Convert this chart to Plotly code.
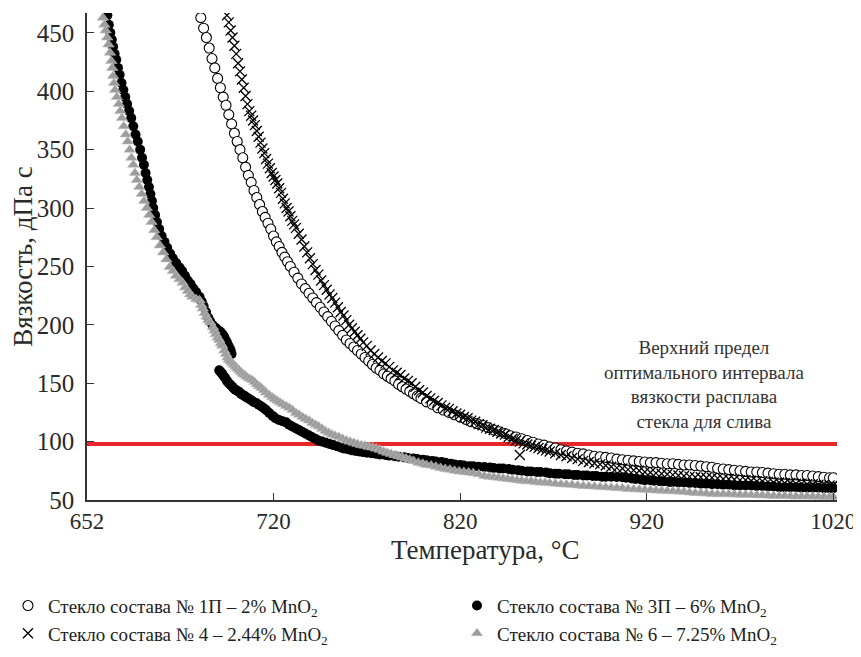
import plotly.graph_objects as go

# ---------------- data ----------------
# (temperature, viscosity) pairs
# Glass 1P - 2% MnO2 (open circles)
pts_1p = [(681, 463), (682.5, 454), (684, 446), (685.5, 437), (687, 428), (688.5, 420), (690, 411), (691.5, 403),
          (693, 395), (694.5, 388), (696, 380), (697.5, 372), (699, 364), (700.5, 357), (702, 350), (703.5, 343),
          (705, 335), (706.5, 328), (708, 322), (709.5, 315), (711, 309), (712.5, 303), (714, 297), (715.5, 292),
          (717, 287), (718.5, 282), (720, 276), (721.5, 271), (723, 267), (724.5, 262), (726, 258), (727.5, 254),
          (729, 250), (731, 245), (733, 240), (735, 235), (737, 231), (739, 227), (741, 223), (743, 219),
          (745, 215), (747, 211), (749, 207), (751, 203), (753, 199), (755, 195), (757, 191), (759, 187),
          (761, 184), (763, 181), (765, 178), (767, 175), (769, 172), (771, 169), (773, 166), (775, 163),
          (777, 161), (779, 158), (781, 156), (783, 154), (785, 152), (787, 149), (789, 147), (791, 145),
          (793, 143), (795, 141), (797, 139), (799, 137), (802, 134), (805, 132), (808, 129), (811, 127),
          (814, 125), (817, 123), (820, 121), (823, 119), (826, 117), (829, 115.5), (832, 114), (835, 112),
          (838, 110), (841, 108.5), (844, 107), (847, 105), (850, 104), (853, 102.5), (856, 101), (859, 99.5),
          (862, 98), (865, 97), (868, 95.5), (871, 94.5), (874, 93), (877, 92), (880, 91), (883, 90),
          (886, 89.5), (889, 88.5), (892, 87.5), (895, 87), (898, 86.5), (901, 86), (904, 85), (907, 84.5),
          (910, 84), (913, 83.5), (916, 83), (919, 82.5), (922, 82), (925, 82), (928, 81.5), (931, 81),
          (934, 81), (937, 80.5), (940, 80), (943, 80), (946, 79.5), (949, 79), (952, 78.5), (955, 78),
          (958, 77), (961, 76.5), (964, 76), (967, 75.5), (970, 75), (973, 74.5), (976, 74), (979, 74),
          (982, 73.5), (985, 73), (988, 72.5), (991, 72), (994, 72), (997, 71.5), (1000, 71.5), (1003, 71),
          (1006, 71), (1009, 70.5), (1012, 70), (1015, 69.5), (1018, 69), (1020, 69)]

# Glass 3P - 6% MnO2 (filled black circles): upper branch, then lower branch
pts_3p = [(630.9, 465), (631.7, 457), (632.5, 450), (633.3, 444), (634, 438), (634.8, 432), (635.7, 427),
          (636.6, 420), (637.5, 414), (638.5, 407), (639.5, 401), (640.5, 395), (641.5, 389), (642.6, 383),
          (643.7, 377), (644.8, 370), (646, 363), (647.2, 357), (648.5, 350), (649.5, 343), (650.5, 337),
          (651.4, 330), (652.3, 324), (653.2, 318), (654, 312), (654.8, 306), (655.5, 300), (656.5, 294),
          (657.5, 288), (658.7, 282), (660, 276), (661.5, 271), (663, 266), (664.5, 261), (666, 257),
          (667.8, 253), (669.6, 249), (671, 246), (672.5, 242), (674, 238), (675.5, 235), (677, 231),
          (678.5, 228), (680.3, 224), (681.5, 220), (682.5, 216), (683.8, 211), (685, 206), (686, 203),
          (687.2, 200), (688.2, 198), (689.2, 197), (690.5, 195), (691.5, 194), (692.5, 192), (693.5, 190),
          (694.3, 187), (695, 185), (695.8, 182), (696.5, 180), (697, 178), (697.5, 175),
          (690.9, 161), (691.7, 159.5), (692.5, 158), (693.3, 156), (694.1, 154.5), (695, 152), (696, 150),
          (697, 148.5), (697.9, 147), (698.7, 145.5), (699.5, 144.5), (700.5, 143.5), (701.6, 142.5),
          (702.5, 141), (703.5, 140), (704.5, 139), (705.3, 138), (706.5, 137), (708, 135.5), (709.3, 134),
          (710.7, 133), (712, 131.5), (713.5, 130), (714.8, 128.5), (716, 127), (717.7, 124.5), (719.5, 122),
          (721, 120), (722.9, 118.5), (724.8, 117.5), (726.7, 116.5), (728.3, 114.5), (730, 113),
          (731.8, 111.5), (733.6, 110), (735.3, 108.5), (737, 107), (738.8, 105.5), (740.5, 104),
          (742.3, 102.5), (744, 101), (746, 100), (748, 99), (750, 98), (752, 97), (754, 96), (756, 95),
          (758, 94), (760, 93.5), (762, 92.5), (764, 92), (766, 91.5), (768, 91), (770, 90.5), (772.5, 90),
          (775, 89.5), (777, 89), (780, 88.5), (782, 88), (785, 87.5), (787, 87), (790, 86.5), (792, 86),
          (795, 85.5), (797, 85), (800, 84.5), (802, 84), (805, 83.5), (807, 83), (810, 82.5), (812, 82),
          (815, 81), (817, 80.5), (820, 80), (822, 79.5), (825, 79), (827, 79), (830, 78.5), (833, 78.3),
          (836, 77.8), (838, 77.5), (841, 77), (843, 77), (846, 76.5), (848, 76), (851, 75.5), (853, 75),
          (856, 74.5), (858, 74.5), (861, 74), (863, 74), (866, 73.5), (868, 73), (871, 72.5), (873, 72.5),
          (876, 72), (878, 72), (881, 71.5), (883, 71.5), (886, 71), (888, 71), (891, 70.5), (893, 70.5),
          (896, 70), (898, 70), (901, 70), (904, 69.7), (907, 69.5), (909, 69), (912, 68.5), (914, 68),
          (917, 67.5), (919, 67), (922, 67), (924, 66.5), (927, 66), (929, 66), (932, 65.5), (934, 65.5),
          (937, 65), (940, 65), (943, 64.5), (946, 64.5), (949, 64), (952, 64), (955, 63.5), (958, 63.5),
          (961, 63), (964, 63), (967, 62.5), (970, 62.5), (973, 62.5), (976, 62.5), (979, 62), (982, 62),
          (985, 61.5), (988, 61.5), (991, 61), (994, 61), (997, 61), (1000, 61), (1003, 60.5), (1006, 60.5),
          (1009, 60.5), (1012, 60.5), (1015, 60), (1018, 60), (1020, 60)]

# Glass 4 - 2.44% MnO2 (crosses)
pts_4 = [(695, 465), (696, 459), (697, 452), (698, 446), (699, 439), (700, 432), (701, 424), (702, 417),
         (703, 410), (704, 403), (705, 396), (706, 389), (707, 383), (708, 379), (709, 375), (710, 371),
         (711, 366), (712, 361), (713, 356), (714, 351), (715, 347), (716, 342), (717, 338), (718, 334),
         (719, 330), (720, 327), (721, 324), (722, 321), (723, 317), (724, 313), (725, 308), (726, 304),
         (727, 300), (728, 297), (729, 293), (730, 289), (731, 286), (732, 283), (733.5, 278), (735, 273),
         (736.5, 267), (738, 262), (739.5, 257), (741, 252), (742.5, 247), (744, 243), (745.5, 238),
         (747, 234), (748.5, 230), (750, 226), (751.5, 223), (753, 219), (754.5, 215), (756, 211),
         (757.5, 208), (759, 204), (760.5, 200), (762, 197), (763.5, 194), (765, 191), (766.5, 188),
         (768, 185), (770, 182), (772, 178), (774, 175), (776, 172), (778, 169), (780, 167), (782, 164),
         (784, 161), (786, 159), (788, 157), (790, 154), (792, 152), (794, 150), (796, 147), (798, 144),
         (800, 142), (802, 139), (804, 137), (806, 135), (808, 133), (810, 131), (812, 129), (814, 128),
         (816, 126), (818, 124), (820, 123), (822, 121), (824, 120), (826, 118), (828, 117), (830, 115),
         (832, 114), (834, 112), (836, 111), (838, 110), (840, 108.5), (842, 107), (844, 106), (846, 104),
         (848, 102.5), (850, 101), (852, 88.5), (852, 100), (854, 98.5), (856, 97.5), (858, 96.5),
         (860, 95.5), (862, 94.5), (864, 93.5), (866, 92.5), (868, 91.5), (871, 90), (874, 88.5),
         (877, 87.5), (880, 86), (883, 85), (886, 83.5), (889, 82.5), (892, 81.5), (895, 80.5), (898, 79.5),
         (901, 78.5), (904, 77.5), (907, 77), (910, 76), (913, 75.5), (916, 75), (919, 74), (922, 73.5),
         (925, 73), (928, 72.5), (931, 72), (934, 71.5), (937, 71), (940, 70.5), (943, 70), (946, 69.5),
         (949, 69.5), (952, 69), (955, 69), (958, 68.5), (961, 68), (964, 68), (967, 67.5), (970, 67),
         (973, 67), (976, 66.5), (979, 66), (982, 66), (985, 65.5), (988, 65), (991, 65), (994, 64.5),
         (997, 64.5), (1000, 64), (1003, 64), (1006, 63.5), (1009, 63.5), (1012, 63), (1015, 63),
         (1018, 62.5), (1020, 62.5)]

# Glass 6 - 7.25% MnO2 (grey triangles)
pts_6 = [(628.5, 463), (629.3, 457), (630, 452), (630.8, 446), (631.5, 440), (632.3, 433), (633, 426),
         (633.5, 420), (634, 413), (634.5, 407), (635, 401), (636, 395), (637, 389), (637.8, 383),
         (638.7, 377), (639.7, 370), (640.8, 363), (641.8, 357), (642.9, 350), (643.8, 343), (644.8, 337),
         (645.7, 330), (646.7, 324), (648, 318), (649.3, 312), (650.6, 306), (652, 300), (653.3, 294),
         (654.6, 288), (656, 281), (657.3, 275), (659, 268), (660.8, 262), (662.5, 256), (664.3, 249.5),
         (666, 246), (667.7, 242), (669.5, 239), (671.2, 236), (672.6, 232), (674, 229), (675.3, 226),
         (676.5, 224), (678.5, 222), (680.3, 221), (681.2, 217), (682, 214), (683, 210), (684, 207),
         (685, 204), (686, 202), (687.5, 198), (688.3, 195), (689, 192), (690, 189), (690.9, 187),
         (691.7, 184), (692.5, 182), (693.5, 178), (694.5, 175), (695.3, 172), (696, 170), (697, 168.5),
         (697.9, 167), (698.8, 165.5), (699.7, 164), (700.6, 162.5), (701.6, 161), (702.5, 159.5),
         (703.5, 158), (704.5, 157), (705.5, 155.5), (707, 154), (708.5, 152.7), (709.8, 151), (711, 149),
         (712.3, 147.5), (713.5, 146), (714.8, 144), (716, 142), (717.6, 140), (719.2, 138), (720.6, 136.5),
         (722, 135), (723.5, 133.5), (725, 132), (726.7, 130.5), (728.5, 129), (730.2, 127), (732, 124.5),
         (733.7, 123), (735.5, 121), (737.2, 119.5), (739, 118), (740.8, 116), (742.5, 114.5),
         (744.2, 113), (746, 111), (747.8, 109), (749.6, 107.5), (751.3, 106), (753, 105), (755, 104),
         (757, 102.5), (759, 101), (761, 100), (763, 99), (765, 98), (767, 97), (769, 96.5), (771, 95.5),
         (773, 95), (775, 94), (777, 93), (779, 91.5), (781, 90.5), (783, 89.5), (785, 88.5), (787, 87.5),
         (789, 86.5), (791, 85.5), (793, 84.5), (795, 83.5), (797.6, 82), (800, 81), (802, 80),
         (804.5, 79.5), (807, 78.5), (809.5, 77.5), (812, 76.5), (814.5, 76), (817, 75), (819.5, 74.5),
         (822, 74), (824.5, 73.5), (827, 73), (830, 72), (833, 70.5), (835.5, 70), (838, 69.5),
         (840.5, 69), (843, 68.5), (845.5, 68), (848, 67.5), (850.5, 67), (853, 66.5), (855.5, 66),
         (858, 66), (860.5, 65.5), (863, 65), (865.5, 64.8), (868, 64.5), (871, 64), (874, 63.5),
         (877, 63.2), (880, 63), (883, 62.5), (886, 62), (889, 61.8), (892, 61.5), (895, 61.2), (898, 61),
         (901, 60.6), (904, 60.3), (907, 60), (910, 59.5), (913, 59.2), (916, 59), (919, 58.7),
         (922, 58.5), (925, 58.2), (928, 58), (931, 57.8), (934, 57.5), (937, 57.2), (940, 57), (943, 56.5),
         (946, 56), (949, 55.8), (952, 55.5), (955, 55.2), (958, 55), (961, 55), (964, 55), (967, 54.7),
         (970, 54.5), (973, 54.4), (976, 54.3), (979, 54.1), (982, 54), (985, 53.8), (988, 53.5),
         (991, 53.5), (994, 53.5), (997, 53.2), (1000, 53), (1003, 53), (1006, 53), (1009, 52.9),
         (1012, 52.8), (1015, 52.7), (1018, 52.6), (1020, 52.6)]

t_1p = [p[0] for p in pts_1p]
v_1p = [p[1] for p in pts_1p]
t_3p = [p[0] for p in pts_3p]
v_3p = [p[1] for p in pts_3p]
t_4 = [p[0] for p in pts_4]
v_4 = [p[1] for p in pts_4]
t_6 = [p[0] for p in pts_6]
v_6 = [p[1] for p in pts_6]

limit_value = 98  # upper limit of optimal viscosity for draining
x_tickvals = [620, 720, 820, 920, 1020]
x_ticktext = ["652", "720", "820", "920", "1020"]
y_tickvals = [50, 100, 150, 200, 250, 300, 350, 400, 450]

names = ["Стекло состава № 1П – 2% MnO<sub>2</sub>",
         "Стекло состава № 3П – 6% MnO<sub>2</sub>",
         "Стекло состава № 4 – 2.44% MnO<sub>2</sub>",
         "Стекло состава № 6 – 7.25% MnO<sub>2</sub>"]

FONT = "Liberation Serif, Times New Roman, serif"

fig = go.Figure()
fig.add_trace(go.Scatter(x=t_1p, y=v_1p, mode="markers", name=names[0], legend="legend",
                         marker=dict(symbol="circle", size=10, color="white",
                                     line=dict(color="black", width=1.1))))
fig.add_trace(go.Scatter(x=t_3p, y=v_3p, mode="markers", name=names[1], legend="legend2",
                         marker=dict(symbol="circle", size=10, color="black",
                                     line=dict(color="black", width=0))))
fig.add_trace(go.Scatter(x=t_4, y=v_4, mode="markers", name=names[2], legend="legend",
                         marker=dict(symbol="x-thin", size=10, color="black",
                                     line=dict(color="black", width=1.3))))
fig.add_trace(go.Scatter(x=t_6, y=v_6, mode="markers", name=names[3], legend="legend2",
                         marker=dict(symbol="triangle-up", size=10, color="#9c9c9c",
                                     line=dict(color="#c0c0c0", width=0.6))))

fig.add_shape(type="line", xref="paper", x0=0, x1=1, yref="y", y0=limit_value, y1=limit_value,
              line=dict(color="#e8262a", width=4), layer="below")

fig.add_annotation(x=950.5, y=148.5, xref="x", yref="y",
                   text="Верхний предел<br>оптимального интервала<br>вязкости расплава<br>стекла для слива",
                   showarrow=False, align="center",
                   font=dict(family=FONT, size=19, color="#333333"))

# x-axis title (placed as in the reference, slightly right of the plot centre)
fig.add_annotation(x=0.531, y=-0.1027, xref="paper", yref="paper", xanchor="center", yanchor="middle",
                   text="Температура, °С", showarrow=False,
                   font=dict(family=FONT, size=27, color="#2a2a2a"))

legend_common = dict(orientation="v", xanchor="left", yanchor="top",
                     font=dict(family=FONT, size=19, color="#222222"),
                     bgcolor="rgba(0,0,0,0)", itemsizing="trace", tracegroupgap=0)

# the page body adds an 8px offset, so the figure is 8px smaller than the window
fig.update_layout(
    width=853, height=649,
    margin=dict(l=79, r=24, t=5, b=157, autoexpand=False),
    paper_bgcolor="white", plot_bgcolor="white",
    font=dict(family=FONT, color="#2a2a2a"),
    showlegend=True,
    legend=dict(x=-0.1054, y=-0.178, **legend_common),
    legend2=dict(x=0.4933, y=-0.178, **legend_common),
)
fig.update_xaxes(range=[620, 1022], tickvals=x_tickvals, ticktext=x_ticktext, automargin=False,
                 showgrid=False, zeroline=False, showline=True, linecolor="#333333", linewidth=1.5,
                 ticks="inside", ticklen=7, tickcolor="#333333", tickwidth=1.2,
                 ticklabeloverflow="allow",
                 tickfont=dict(family=FONT, size=23, color="#2a2a2a"))
fig.update_yaxes(range=[50, 467], tickvals=y_tickvals, automargin=False,
                 showgrid=False, zeroline=False, showline=True, linecolor="#333333", linewidth=1.5,
                 ticks="inside", ticklen=7, tickcolor="#333333", tickwidth=1.2,
                 ticklabelstandoff=6, ticklabeloverflow="allow",
                 tickfont=dict(family=FONT, size=25, color="#2a2a2a"),
                 title=dict(text="Вязкость, дПа с", font=dict(family=FONT, size=27, color="#2a2a2a"),
                            standoff=11))

fig.write_html("out.html")
